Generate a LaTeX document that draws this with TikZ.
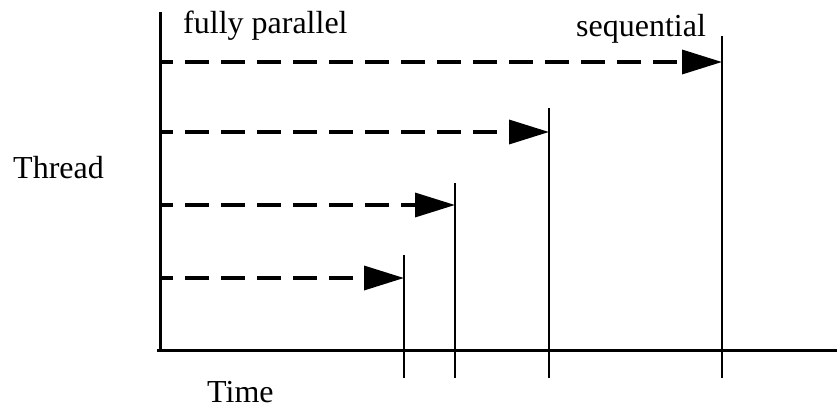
\documentclass[tikz,border=0pt]{standalone}
\usepackage{fontspec}
\setmainfont{Liberation Serif}
\usetikzlibrary{arrows.meta}
\begin{document}
\begin{tikzpicture}[x=1pt,y=-1pt,
  axisline/.style={line width=3pt},
  endline/.style={line width=2.4pt},
  thrarrow/.style={line width=3.5pt, dash pattern=on 24pt off 12pt, dash phase=11pt,
    -{Triangle[length=40pt,width=24pt]}},
  lbl/.style={anchor=base west, inner sep=0pt, font=\fontsize{32}{38}\selectfont}]
\useasboundingbox (0,0) rectangle (837,409);
% axes
\coordinate (ytop) at (160,12);
\coordinate (origin) at (160,350);
\coordinate (xleft) at (157,350);
\coordinate (xright) at (837,350);
\draw[axisline] (ytop) -- (origin);
\draw[axisline] (xleft) -- (xright);
% labels
\node[lbl] (fp) at (183,34) {fully parallel};
\node[lbl] (seq) at (576,37) {sequential};
\node[lbl] (thr) at (13,178) {Thread};
\node[lbl] (tim) at (207,402) {Time};
% thread finish lines
\coordinate (t1) at (722,36);  \coordinate (b1) at (722,378);
\coordinate (t2) at (549,108); \coordinate (b2) at (549,378);
\coordinate (t3) at (455,183); \coordinate (b3) at (455,378);
\coordinate (t4) at (404,255); \coordinate (b4) at (404,378);
\draw[endline] (t1) -- (b1);
\draw[endline] (t2) -- (b2);
\draw[endline] (t3) -- (b3);
\draw[endline] (t4) -- (b4);
% thread arrows
\coordinate (s1) at (160,62);  \coordinate (e1) at (722,62);
\coordinate (s2) at (160,132); \coordinate (e2) at (549,132);
\coordinate (s3) at (160,205); \coordinate (e3) at (455,205);
\coordinate (s4) at (160,278); \coordinate (e4) at (404,278);
\draw[thrarrow] (s1) -- (e1);
\draw[thrarrow] (s2) -- (e2);
\draw[thrarrow] (s3) -- (e3);
\draw[thrarrow] (s4) -- (e4);
\end{tikzpicture}
\end{document}
